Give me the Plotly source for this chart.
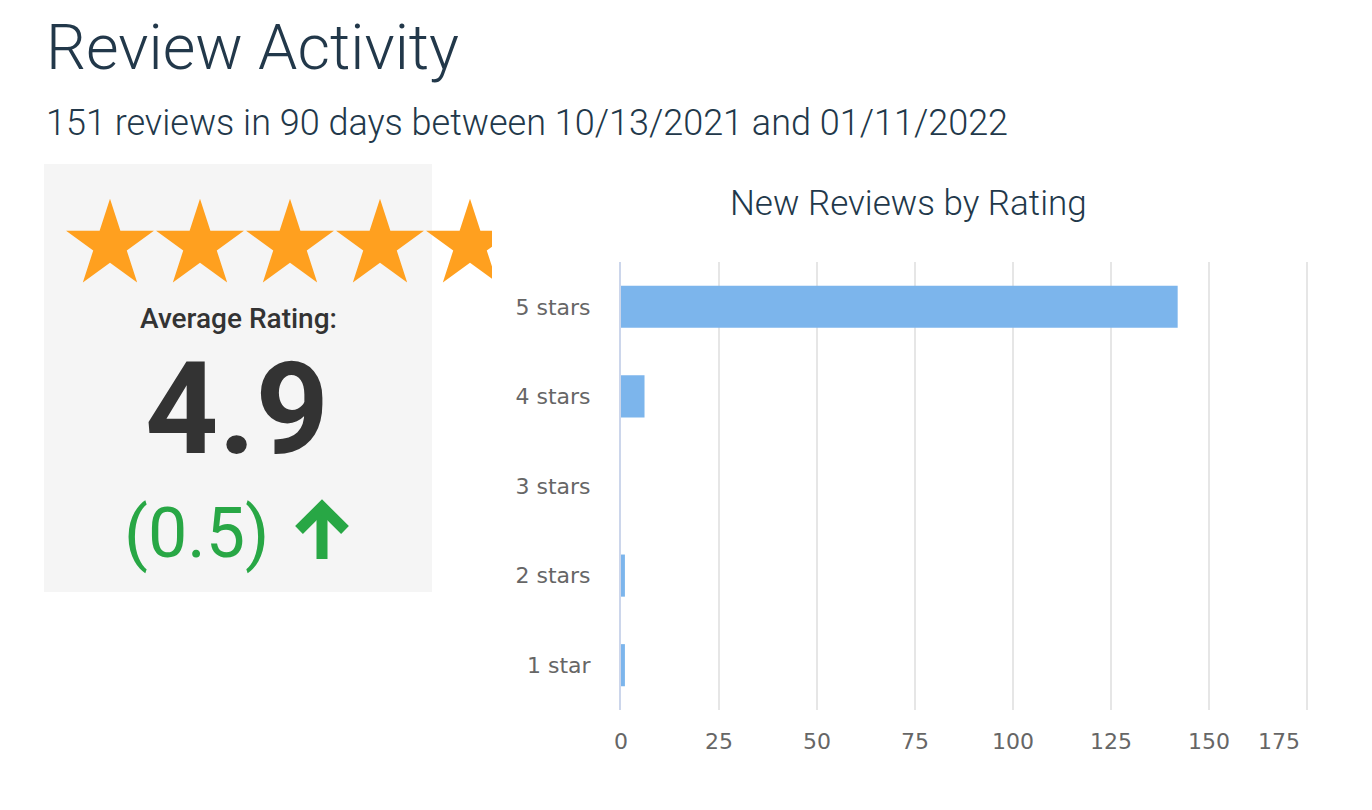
import plotly.graph_objects as go

W, H = 1372, 810

# ---- data ----
ratings = ["5 stars", "4 stars", "3 stars", "2 stars", "1 star"]
counts = [142, 6, 0, 1, 1]
x_ticks = [0, 25, 50, 75, 100, 125, 150, 175]
star_icons = [1, 2, 3, 4, 5]
avg_rating = "4.9"
rating_change = "(0.5)"
title_text = "Review Activity"
subtitle_text = "151 reviews in 90 days between 10/13/2021 and 01/11/2022"
chart_title = "New Reviews by Rating"


def px(x):
    return x / W


def py(y):
    return 1 - y / H


fig = go.Figure()

fig.add_trace(go.Bar(
    x=counts, y=ratings, orientation="h",
    marker=dict(color="#7cb5ec", line=dict(width=0)),
    xaxis="x", yaxis="y", hoverinfo="x+y",
))

# decorative star icons on a hidden axis (clipped at the right like the original)
fig.add_trace(go.Scatter(
    x=star_icons, y=[0.5] * len(star_icons), mode="markers",
    marker=dict(symbol="star", size=66, color="#ffa01f", line=dict(width=0)),
    xaxis="x2", yaxis="y2", cliponaxis=True, hoverinfo="skip",
))

fig.update_layout(
    template="none",
    width=W, height=H, autosize=False,
    margin=dict(l=0, r=0, t=0, b=0, pad=0),
    paper_bgcolor="white", plot_bgcolor="rgba(0,0,0,0)",
    showlegend=False,
    bargap=0.53,
    font=dict(family="Roboto"),
    xaxis=dict(
        domain=[px(621), px(1309)], range=[0, 175.5],
        tickmode="array", tickvals=x_ticks,
        ticktext=[str(v) for v in x_ticks[:-1]] + [str(x_ticks[-1]) + "&nbsp;" * 8],
        showgrid=True, gridcolor="#e6e6e6", gridwidth=2,
        zeroline=False, showline=False, ticks="",
        tickfont=dict(family="DejaVu Sans", size=22, color="#666666"),
        ticklabelstandoff=16, fixedrange=True, automargin=False,
    ),
    yaxis=dict(
        domain=[py(710), py(262)], autorange="reversed",
        categoryorder="array", categoryarray=ratings,
        showgrid=False, zeroline=False,
        showline=True, linecolor="#ccd6eb", linewidth=2,
        ticks="", tickfont=dict(family="DejaVu Sans", size=22, color="#666666"),
        ticklabelstandoff=24, fixedrange=True, automargin=False,
    ),
    xaxis2=dict(
        domain=[px(44), px(492)], range=[(44 - 20) / 90, (492 - 20) / 90],
        visible=False, fixedrange=True, automargin=False,
    ),
    yaxis2=dict(
        domain=[py(300), py(190)], range=[0, 1], anchor="x2",
        visible=False, fixedrange=True, automargin=False,
    ),
)

# gray panel
fig.add_shape(type="rect", xref="paper", yref="paper",
              x0=px(44), x1=px(432), y0=py(592), y1=py(164),
              fillcolor="#f5f5f5", line=dict(width=0), layer="below")

# green up arrow icon
fig.add_shape(type="path", xref="paper", yref="paper",
              path=f"M {px(322)},{py(559)} L {px(322)},{py(509)}",
              line=dict(color="#28a745", width=11))
fig.add_shape(type="path", xref="paper", yref="paper",
              path=f"M {px(299)},{py(530)} L {px(322)},{py(507)} L {px(345)},{py(530)}",
              line=dict(color="#28a745", width=11))

ann = [
    dict(text=title_text, x=px(44), y=py(48), xanchor="left", yanchor="middle",
         font=dict(family="Roboto", size=63, color="#22384a", weight=300)),
    dict(text=subtitle_text, x=px(44), y=py(123), xanchor="left", yanchor="middle",
         font=dict(family="Roboto", size=36, color="#22384a", weight=300)),
    dict(text=chart_title, x=px(908), y=py(204), xanchor="center", yanchor="middle",
         font=dict(family="Roboto", size=35, color="#22384a", weight=300)),
    dict(text="Average Rating:", x=px(238), y=py(318), xanchor="center", yanchor="middle",
         font=dict(family="Roboto", size=28, color="#333333", weight=500)),
    dict(text=avg_rating, x=px(237), y=py(409), xanchor="center", yanchor="middle",
         font=dict(family="Roboto", size=128, color="#333333", weight=700)),
    dict(text=rating_change, x=px(196), y=py(533), xanchor="center", yanchor="middle",
         font=dict(family="Roboto", size=70, color="#28a745", weight=400)),
]
for a in ann:
    a.update(xref="paper", yref="paper", showarrow=False)
fig.update_layout(annotations=ann)

fig.write_html(
    "out.html",
    config={"responsive": False, "displayModeBar": False},
    default_width=f"{W}px", default_height=f"{H}px",
    post_script="document.body.style.margin='0';document.body.style.overflow='hidden';",
)
